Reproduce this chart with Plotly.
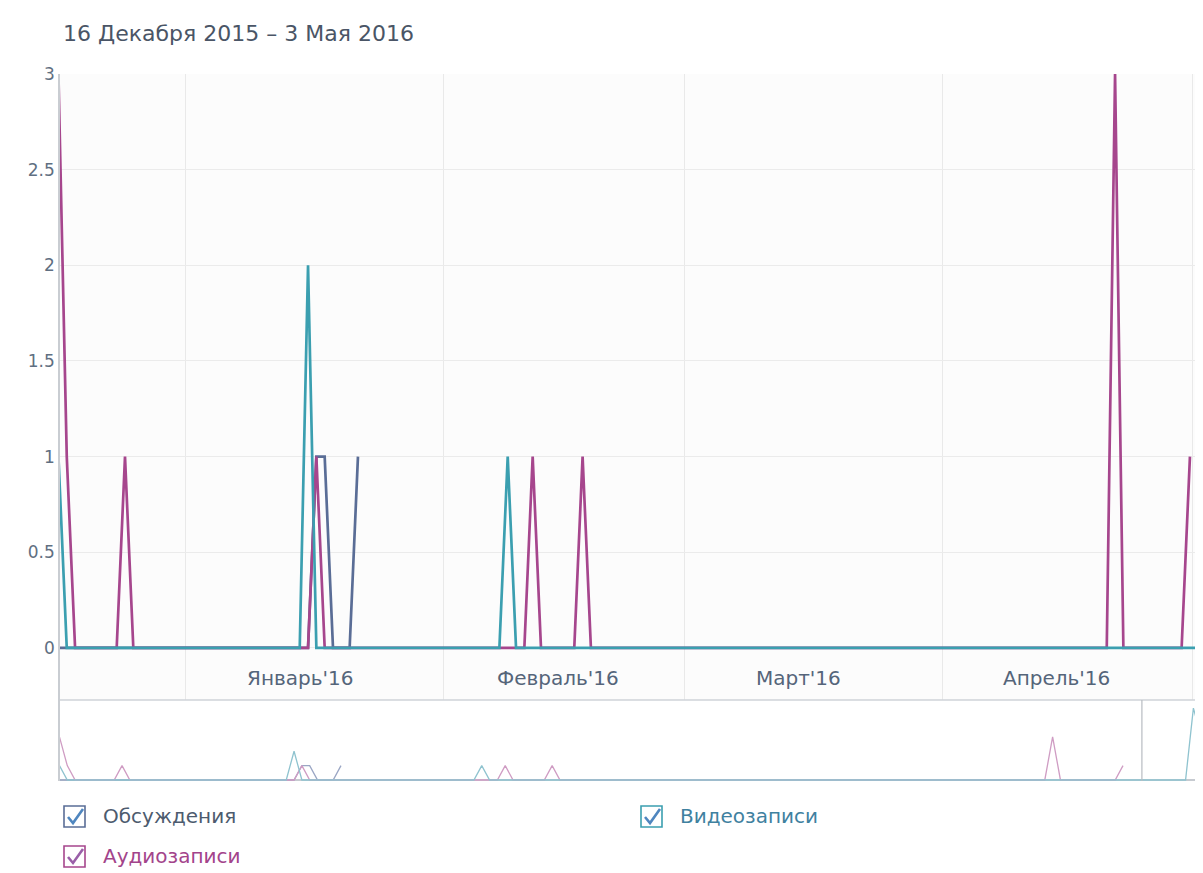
import pandas as pd
import plotly.graph_objects as go

# ---------------- data ----------------
title_text = "16 Декабря 2015 – 3 Мая 2016"
series_names = ["Обсуждения", "Аудиозаписи", "Видеозаписи"]

disc_start, disc_end = "2015-12-17", "2016-01-22"
disc_dates = ["2016-01-17", "2016-01-18", "2016-01-22"]
disc_vals = [1, 1, 1]

audio_start, audio_end = "2015-12-17", "2016-05-01"
audio_dates = ["2015-12-17", "2015-12-18", "2015-12-25", "2016-01-17",
               "2016-02-12", "2016-02-18", "2016-04-22", "2016-05-01"]
audio_vals = [3, 1, 1, 1, 1, 1, 3, 1]

video_start, video_end = "2015-12-17", "2016-05-13"
video_dates = ["2015-12-17", "2016-01-16", "2016-02-09", "2016-05-10", "2016-05-11"]
video_vals = [1, 2, 1, 5, 3]

month_starts = ["2016-01-01 07:00", "2016-02-01 07:00", "2016-03-01 07:00",
                "2016-04-01 07:00", "2016-05-01 07:00"]
month_label_dates = ["2016-01-15", "2016-02-15", "2016-03-15", "2016-04-15"]
month_labels = ["Январь'16", "Февраль'16", "Март'16", "Апрель'16"]
y_ticks = [0, 0.5, 1, 1.5, 2, 2.5, 3]
y_labels = ["0", "0.5", "1", "1.5", "2", "2.5", "3"]

main_range = ["2015-12-17 04:30", "2016-05-02 13:40"]
nav_range = ["2015-12-17 01:40", "2016-05-11 05:30"]
window_end = "2016-05-03 10:00"


def daily(start, end, dates, vals):
    s = pd.Series(0.0, index=pd.date_range(start, end, freq="D"))
    s[pd.to_datetime(dates)] = vals
    return s


disc = daily(disc_start, disc_end, disc_dates, disc_vals)
audio = daily(audio_start, audio_end, audio_dates, audio_vals)
video = daily(video_start, video_end, video_dates, video_vals)

colors = ["#5a6d96", "#a6468d", "#3b9fb0"]
nav_colors = ["#9aa6c4", "#cf9cc3", "#8fc3cf"]
text_colors = ["#4d5b6e", "#a3448b", "#3f81a0"]

# ---------------- layout geometry ----------------
OFF = 8                      # default page body margin
W, H = 1203 - OFF, 873 - OFF
L, R, T, B = 60 - OFF, 0, 74 - OFF, 873 - 781
PW, PH = W - L - R, H - T - B


def px(x):
    return (x - OFF - L) / PW


def py(y):
    return (H - B - (y - OFF)) / PH


split = py(700)
FONT = "DejaVu Sans"

fig = go.Figure()
series = [disc, audio, video]
for name, s, c in zip(series_names, series, colors):
    fig.add_trace(go.Scatter(x=s.index, y=s.values, mode="lines", name=name,
                             line=dict(color=c, width=2.7), xaxis="x", yaxis="y",
                             showlegend=False, hoverinfo="skip"))
for name, s, c in zip(series_names, series, nav_colors):
    fig.add_trace(go.Scatter(x=s.index, y=s.values, mode="lines", name=name,
                             line=dict(color=c, width=1.3), xaxis="x2", yaxis="y2",
                             showlegend=False, hoverinfo="skip"))

annotations = [dict(text=title_text, x=px(61), y=py(33), xref="paper", yref="paper",
                    xanchor="left", yanchor="middle", showarrow=False,
                    font=dict(family=FONT, size=22, color="#4a5566"))]
for d, lab in zip(month_label_dates, month_labels):
    annotations.append(dict(text=lab, x=d, y=-0.155, xref="x", yref="y",
                            xanchor="center", yanchor="middle", showarrow=False,
                            font=dict(family=FONT, size=20, color="#55657a")))

shapes = [
    dict(type="rect", xref="paper", yref="paper", x0=0, x1=1, y0=split, y1=1,
         fillcolor="#fcfcfc", line=dict(width=0), layer="below"),
    dict(type="line", xref="paper", yref="paper", x0=0, x1=1, y0=py(700), y1=py(700),
         line=dict(color="#cfd3d8", width=1.5)),
    dict(type="line", xref="x2", yref="paper", x0=window_end, x1=window_end,
         y0=py(781), y1=py(700), line=dict(color="#b8bcc2", width=1.2)),
    dict(type="line", xref="paper", yref="y2", x0=0, x1=1, y0=0, y1=0,
         line=dict(color="#b3b9c0", width=1.6), layer="below"),
]

legend_items = [(64, 806, 0), (641, 806, 2), (64, 846, 1)]
for bx, by, i in legend_items:
    s = 21
    shapes.append(dict(type="rect", xref="paper", yref="paper",
                       x0=px(bx), x1=px(bx + s), y0=py(by + s), y1=py(by),
                       line=dict(color=colors[i], width=1.6), fillcolor="white"))
    path = "M {:.5f},{:.5f} L {:.5f},{:.5f} L {:.5f},{:.5f}".format(
        px(bx + 4), py(by + 11), px(bx + 9), py(by + 17), px(bx + 19), py(by + 3))
    shapes.append(dict(type="path", xref="paper", yref="paper", path=path,
                       line=dict(color="#4f86bf" if i != 1 else "#9a5fa8", width=2.6)))
    annotations.append(dict(text=series_names[i], x=px(bx + 37), y=py(by + 10),
                            xref="paper", yref="paper", xanchor="left", yanchor="middle",
                            showarrow=False,
                            font=dict(family=FONT, size=20, color=text_colors[i])))

fig.update_layout(
    width=W, height=H,
    margin=dict(l=L, r=R, t=T, b=B, pad=0),
    paper_bgcolor="white", plot_bgcolor="white",
    showlegend=False,
    xaxis=dict(type="date", range=main_range, domain=[0, 1], anchor="y",
               tickvals=month_starts, showticklabels=False, ticks="",
               showgrid=True, gridcolor="#e9e9e9", gridwidth=1, zeroline=False,
               showline=False, fixedrange=True),
    yaxis=dict(range=[-0.272, 3], domain=[split, 1], anchor="x",
               tickvals=y_ticks, ticktext=y_labels, ticks="", ticklen=0,
               tickfont=dict(family=FONT, size=17, color="#5f6f82"),
               showgrid=True, gridcolor="#ebebeb", gridwidth=1, zeroline=False,
               showline=True, linecolor="#c9cdd2", linewidth=1.5, ticklabelstandoff=0),
    xaxis2=dict(type="date", range=nav_range, domain=[0, 1], anchor="y2",
                showticklabels=False, ticks="", showgrid=False, zeroline=False,
                showline=False),
    yaxis2=dict(range=[-0.07, 5.56], domain=[0, split], anchor="x2",
                showticklabels=False, ticks="", showgrid=False, zeroline=False,
                showline=True, linecolor="#c9cdd2", linewidth=1.5),
    annotations=annotations,
    shapes=shapes,
)

fig.write_html("out.html", default_width=f"{W}px", default_height=f"{H}px")
